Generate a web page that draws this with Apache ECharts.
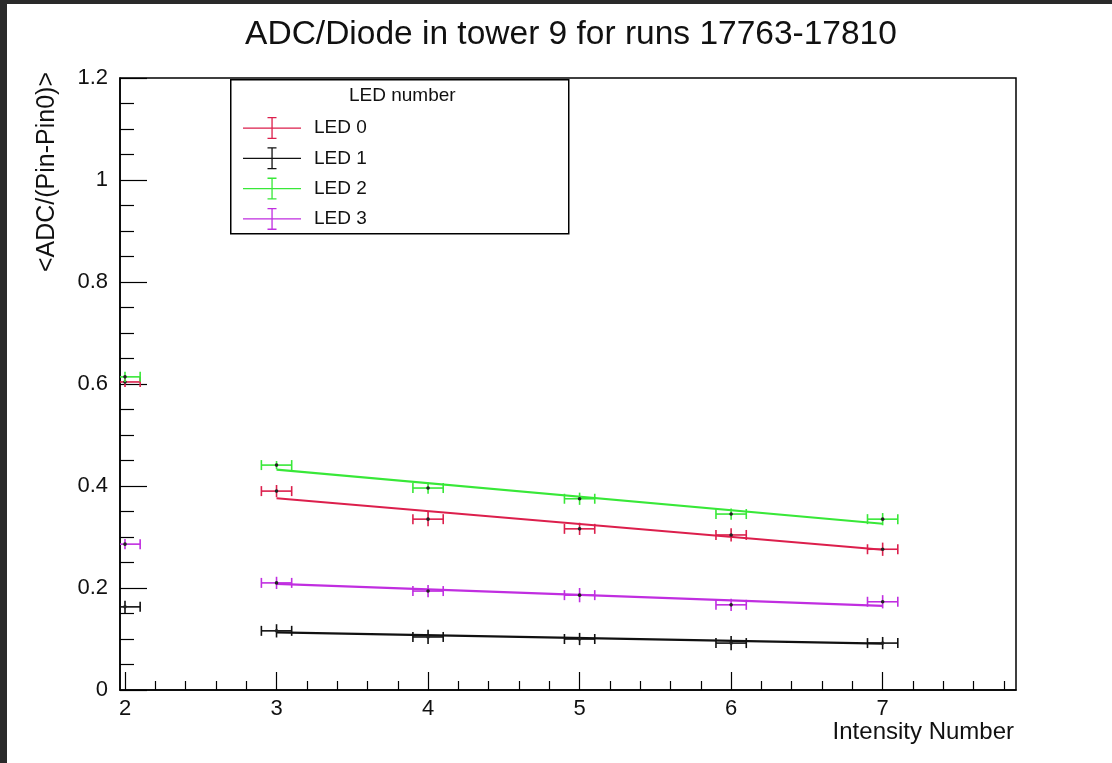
<!DOCTYPE html>
<html>
<head>
<meta charset="utf-8">
<title>ADC/Diode in tower 9</title>
<script src="https://cdn.jsdelivr.net/npm/echarts@6/dist/echarts.min.js"></script>
<style>
  html, body { margin: 0; padding: 0; background: #fff; }
  #chart { width: 1112px; height: 763px; }
</style>
</head>
<body>
<div id="chart"></div>
<script>
// values
const intensity = [2, 3, 4, 5, 6, 7];
const xErr = [0.1, 0.1, 0.1, 0.1, 0.1, 0.1];

const led0 = [0.604, 0.390, 0.335, 0.316, 0.304, 0.276];
const led1 = [0.163, 0.116, 0.104, 0.100, 0.092, 0.092];
const led2 = [0.614, 0.441, 0.396, 0.375, 0.345, 0.335];
const led3 = [0.286, 0.210, 0.194, 0.186, 0.167, 0.173];

const led0Err = [0.010, 0.012, 0.014, 0.012, 0.013, 0.013];
const led1Err = [0.012, 0.013, 0.014, 0.012, 0.014, 0.012];
const led2Err = [0.010, 0.008, 0.011, 0.012, 0.011, 0.012];
const led3Err = [0.010, 0.012, 0.012, 0.014, 0.012, 0.013];

// linear fits, drawn from intensity 3 to 7
const fitRange = [3, 7];
const fit0 = [0.376, 0.275];
const fit1 = [0.113, 0.091];
const fit2 = [0.432, 0.326];
const fit3 = [0.208, 0.165];

const ledNames = ['LED 0', 'LED 1', 'LED 2', 'LED 3'];
const ledColors = ['#dc1f4c', '#111111', '#38e838', '#c02ee0'];
const xMajor = [2, 3, 4, 5, 6, 7];
const yTicks = ['0', '0.2', '0.4', '0.6', '0.8', '1', '1.2'];

const xMin = 1.967, xMax = 7.88;

// minor ticks every 0.2 on the x axis
const xMinor = [];
for (let i = 2; i <= 7; i++) {
  for (let k = 1; k <= 4; k++) xMinor.push(+(i + k * 0.2).toFixed(1));
}

const errIcon = 'path://M0,10.4h58v1.3h-58z M28.4,1h1.3v20h-1.3z M24.5,0h9v1.3h-9z M24.5,20.7h9v1.3h-9z';

function errorBars(color) {
  return function (params, api) {
    const x = api.value(0), y = api.value(1), ex = api.value(2), ey = api.value(3);
    const c = api.coord([x, y]);
    const l = api.coord([x - ex, y]);
    const r = api.coord([x + ex, y]);
    const t = api.coord([x, y + ey]);
    const b = api.coord([x, y - ey]);
    const st = { stroke: color, lineWidth: 1.6 };
    return {
      type: 'group',
      children: [
        { type: 'line', shape: { x1: l[0], y1: l[1], x2: r[0], y2: r[1] }, style: st },
        { type: 'line', shape: { x1: l[0], y1: l[1] - 5, x2: l[0], y2: l[1] + 5 }, style: st },
        { type: 'line', shape: { x1: r[0], y1: r[1] - 5, x2: r[0], y2: r[1] + 5 }, style: st },
        { type: 'line', shape: { x1: t[0], y1: t[1], x2: b[0], y2: b[1] }, style: st },
        { type: 'circle', shape: { cx: c[0], cy: c[1], r: 1.8 }, style: { fill: '#222' } }
      ]
    };
  };
}

function pointData(vals, errs) {
  return intensity.map((x, i) => [x, vals[i], xErr[i], errs[i]]);
}

const values = [led0, led1, led2, led3];
const errs = [led0Err, led1Err, led2Err, led3Err];
const fits = [fit0, fit1, fit2, fit3];

const series = [];
fits.forEach((f, i) => {
  series.push({
    name: ledNames[i] + ' fit',
    type: 'line',
    data: [[fitRange[0], f[0]], [fitRange[1], f[1]]],
    symbol: 'none',
    silent: true,
    lineStyle: { color: ledColors[i], width: 2.2 },
    z: 2
  });
});
// LED 0 goes before LED 2 so the green point sits on top at intensity 2
[0, 1, 3, 2].forEach((i) => {
  series.push({
    name: ledNames[i],
    type: 'custom',
    clip: true,
    renderItem: errorBars(ledColors[i]),
    itemStyle: { color: ledColors[i] },
    encode: { x: 0, y: 1 },
    data: pointData(values[i], errs[i]),
    z: 3
  });
});

const chart = echarts.init(document.getElementById('chart'));
chart.setOption({
  backgroundColor: '#fff',
  animation: false,
  textStyle: { fontFamily: 'Liberation Sans, Arial, sans-serif' },
  title: {
    text: 'ADC/Diode in tower 9 for runs 17763-17810',
    left: 566,
    top: 13,
    textAlign: 'center',
    textStyle: { fontSize: 33.5, fontWeight: 'normal', color: '#111', fontFamily: 'Liberation Sans' }
  },
  grid: {
    left: 120, right: 96, top: 78, bottom: 73,
    show: true, borderColor: '#000', borderWidth: 1.5, backgroundColor: '#fff'
  },
  legend: {
    data: ledNames.map((n) => ({ name: n, icon: errIcon })),
    orient: 'vertical',
    left: 238,
    top: 112,
    z: 20,
    itemWidth: 58,
    itemHeight: 22,
    itemGap: 8.3,
    selectedMode: false,
    textStyle: { fontSize: 19, color: '#111', padding: [0, 0, 0, 8], fontFamily: 'Liberation Sans' }
  },
  xAxis: [
    {
      type: 'value',
      min: xMin,
      max: xMax,
      name: 'Intensity Number',
      nameLocation: 'end',
      nameGap: 0,
      nameTextStyle: { fontSize: 24, color: '#111', align: 'right', verticalAlign: 'top', padding: [30, 2, 0, 0] },
      axisLine: { show: true, onZero: false, lineStyle: { color: '#000', width: 1.5 } },
      axisTick: { show: true, inside: true, length: 18, customValues: xMajor, lineStyle: { color: '#000', width: 1.2 } },
      axisLabel: { show: true, customValues: xMajor, formatter: (v) => String(v), fontSize: 22, color: '#111', margin: 8 },
      splitLine: { show: false }
    },
    {
      type: 'value',
      min: xMin,
      max: xMax,
      position: 'bottom',
      axisLine: { show: false },
      axisTick: { show: true, inside: true, length: 9, customValues: xMinor, lineStyle: { color: '#000', width: 1.2 } },
      axisLabel: { show: false },
      splitLine: { show: false }
    }
  ],
  yAxis: {
    type: 'value',
    min: 0,
    max: 1.2,
    interval: 0.2,
    axisLine: { show: true, onZero: false, lineStyle: { color: '#000', width: 1.5 } },
    axisTick: { show: true, inside: true, length: 27, lineStyle: { color: '#000', width: 1.2 } },
    minorTick: { show: true, splitNumber: 4, length: 14, lineStyle: { color: '#000', width: 1.2 } },
    axisLabel: {
      fontSize: 22, color: '#111', margin: 12,
      formatter: (v) => yTicks[Math.round(v / 0.2)]
    },
    splitLine: { show: false },
    minorSplitLine: { show: false }
  },
  graphic: [
    { type: 'rect', left: 0, top: 0, shape: { width: 7, height: 763 }, style: { fill: '#2a2a2a' }, z: 100 },
    { type: 'rect', left: 0, top: 0, shape: { width: 1112, height: 4 }, style: { fill: '#2a2a2a' }, z: 100 },
    { type: 'rect', left: 230, top: 79, shape: { width: 338, height: 154 }, style: { fill: '#fff', stroke: '#000', lineWidth: 1.5 }, z: 5 },
    { type: 'text', left: 349, top: 86, style: { text: 'LED number', fontSize: 19, fill: '#111', fontFamily: 'Liberation Sans' }, z: 6 },
    {
      type: 'text',
      x: 47, y: 72,
      rotation: Math.PI / 2,
      style: { text: '<ADC/(Pin-Pin0)>', fontSize: 25, fill: '#111', fontFamily: 'Liberation Sans', align: 'right', verticalAlign: 'middle' },
      z: 6
    }
  ],
  series: series
});
</script>
</body>
</html>
